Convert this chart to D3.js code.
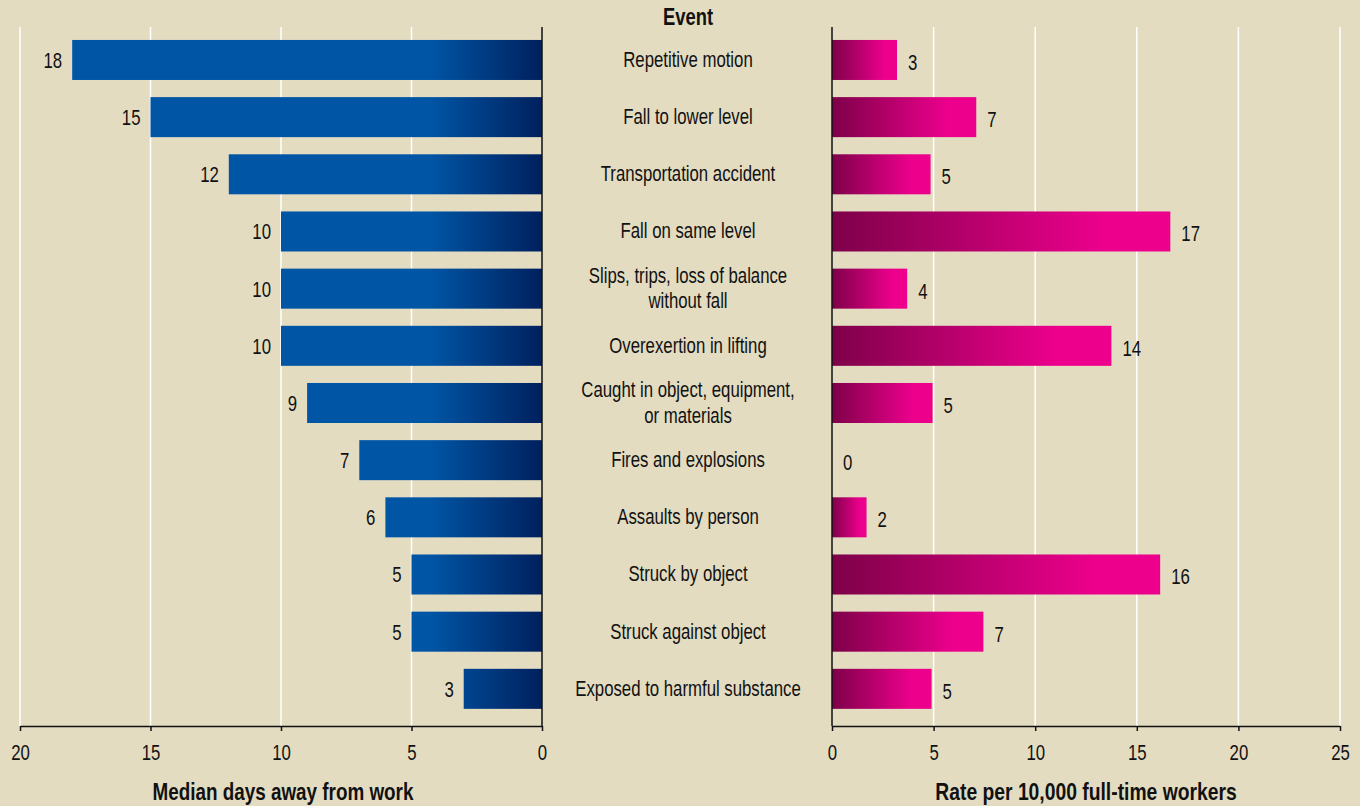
<!DOCTYPE html>
<html><head><meta charset="utf-8">
<script src="https://cdn.jsdelivr.net/npm/d3@7"></script>
<style>
html,body{margin:0;padding:0;background:#E3DCC1;}
text{font-family:"Liberation Sans",Arial,sans-serif;fill:#111;}
</style></head>
<body>
<svg id="c" width="1360" height="806"></svg>
<script>
const categories = [
  ["Repetitive motion"],
  ["Fall to lower level"],
  ["Transportation accident"],
  ["Fall on same level"],
  ["Slips, trips, loss of balance", "without fall"],
  ["Overexertion in lifting"],
  ["Caught in object, equipment,", "or materials"],
  ["Fires and explosions"],
  ["Assaults by person"],
  ["Struck by object"],
  ["Struck against object"],
  ["Exposed to harmful substance"]
];
const medianDays = [18, 15, 12, 10, 10, 10, 9, 7, 6, 5, 5, 3];
const medianLabels = ["18","15","12","10","10","10","9","7","6","5","5","3"];
const rates = [3.2, 7.1, 4.85, 16.65, 3.7, 13.75, 4.95, 0, 1.7, 16.15, 7.45, 4.9];
const rateLabels = ["3","7","5","17","4","14","5","0","2","16","7","5"];
const leftTicks = [20, 15, 10, 5, 0];
const rightTicks = [0, 5, 10, 15, 20, 25];
const centerTitle = "Event";
const leftTitle = "Median days away from work";
const rightTitle = "Rate per 10,000 full-time workers";

const SX = 0.78; // horizontal condensing to mimic a condensed face
const svg = d3.select("#c");
const W = 1360, H = 806;
svg.append("rect").attr("width", W).attr("height", H).attr("fill", "#E3DCC1");

function label(parent, x, y, str, anchor, size, weight, sx) {
  return parent.append("text")
    .attr("transform", `translate(${x},${y}) scale(${sx || SX},1)`)
    .attr("text-anchor", anchor).attr("font-size", size)
    .attr("font-weight", weight || "normal").text(str);
}

const defs = svg.append("defs");
const bg = defs.append("linearGradient").attr("id", "blueGrad")
  .attr("gradientUnits", "userSpaceOnUse").attr("x1", 430).attr("x2", 542).attr("y1", 0).attr("y2", 0);
bg.append("stop").attr("offset", 0).attr("stop-color", "#0055A5");
bg.append("stop").attr("offset", 1).attr("stop-color", "#00205E");
const pg = defs.append("linearGradient").attr("id", "pinkGrad")
  .attr("x1", 0).attr("x2", 1).attr("y1", 0).attr("y2", 0);
pg.append("stop").attr("offset", 0).attr("stop-color", "#7E0049");
pg.append("stop").attr("offset", 0.8).attr("stop-color", "#EC008C");
pg.append("stop").attr("offset", 1).attr("stop-color", "#EC008C");

const idx = d3.range(categories.length);
const y = d3.scaleBand().domain(idx).range([22.8, 726]).padding(0.3);
const gridTop = 27, axisY = 726;

const xL = d3.scaleLinear().domain([20, 0]).range([20, 542]);
const xR = d3.scaleLinear().domain([0, 25]).range([832, 1340]);

// gridlines
svg.append("g").selectAll("line").data(leftTicks.filter(d => d !== 0)).join("line")
  .attr("x1", d => xL(d)).attr("x2", d => xL(d)).attr("y1", gridTop).attr("y2", axisY)
  .attr("stroke", "#fff").attr("stroke-width", 1.5);
svg.append("g").selectAll("line").data(rightTicks.filter(d => d !== 0)).join("line")
  .attr("x1", d => xR(d)).attr("x2", d => xR(d)).attr("y1", gridTop).attr("y2", axisY)
  .attr("stroke", "#fff").attr("stroke-width", 1.5);

// bars
svg.append("g").selectAll("rect").data(idx).join("rect")
  .attr("x", i => xL(medianDays[i])).attr("width", i => xL(0) - xL(medianDays[i]))
  .attr("y", i => y(i)).attr("height", y.bandwidth()).attr("fill", "url(#blueGrad)");
svg.append("g").selectAll("rect").data(idx.filter(i => rates[i] > 0)).join("rect")
  .attr("x", xR(0)).attr("width", i => xR(rates[i]) - xR(0))
  .attr("y", i => y(i)).attr("height", y.bandwidth()).attr("fill", "url(#pinkGrad)");

// value labels
const vg = svg.append("g");
idx.forEach(i => {
  const cy = y(i) + y.bandwidth() / 2;
  label(vg, xL(medianDays[i]) - 10, cy + 8, medianLabels[i], "end", 21.5);
  label(vg, xR(rates[i]) + 11, cy + 10, rateLabels[i], "start", 21.5);
});

// category labels
const cg = svg.append("g");
idx.forEach(i => {
  const lines = categories[i];
  const cy = y(i) + y.bandwidth() / 2;
  const lh = 25.5;
  lines.forEach((ln, k) => {
    label(cg, 688, cy + (k - (lines.length - 1) / 2) * lh + 7, ln, "middle", 21.5);
  });
});

// axes
const axL = svg.append("g").attr("transform", `translate(0,${axisY})`)
  .call(d3.axisBottom(xL).tickValues(leftTicks).tickSize(5).tickSizeOuter(0));
const axR = svg.append("g").attr("transform", `translate(0,${axisY})`)
  .call(d3.axisBottom(xR).tickValues(rightTicks).tickSize(5).tickSizeOuter(0));
[axL, axR].forEach(a => {
  a.select(".domain").attr("stroke", "#111").attr("stroke-width", 1.5);
  a.selectAll(".tick line").attr("stroke", "#111").attr("stroke-width", 1.5);
  a.selectAll(".tick text").attr("font-size", 21.5).attr("dy", "0").attr("y", 0)
    .attr("transform", `translate(0,34) scale(${SX},1)`)
    .attr("font-family", "'Liberation Sans',Arial,sans-serif").attr("fill", "#111");
});

// vertical baselines
svg.append("line").attr("x1", xL(0)).attr("x2", xL(0)).attr("y1", gridTop).attr("y2", axisY)
  .attr("stroke", "#111").attr("stroke-width", 1.5);
svg.append("line").attr("x1", xR(0)).attr("x2", xR(0)).attr("y1", gridTop).attr("y2", axisY)
  .attr("stroke", "#111").attr("stroke-width", 1.5);

// titles
label(svg, 688, 25, centerTitle, "middle", 23, "bold", 0.8);
label(svg, 283, 800, leftTitle, "middle", 23, "bold", 0.82);
label(svg, 1086, 800, rightTitle, "middle", 23, "bold", 0.84);
</script>
</body></html>
